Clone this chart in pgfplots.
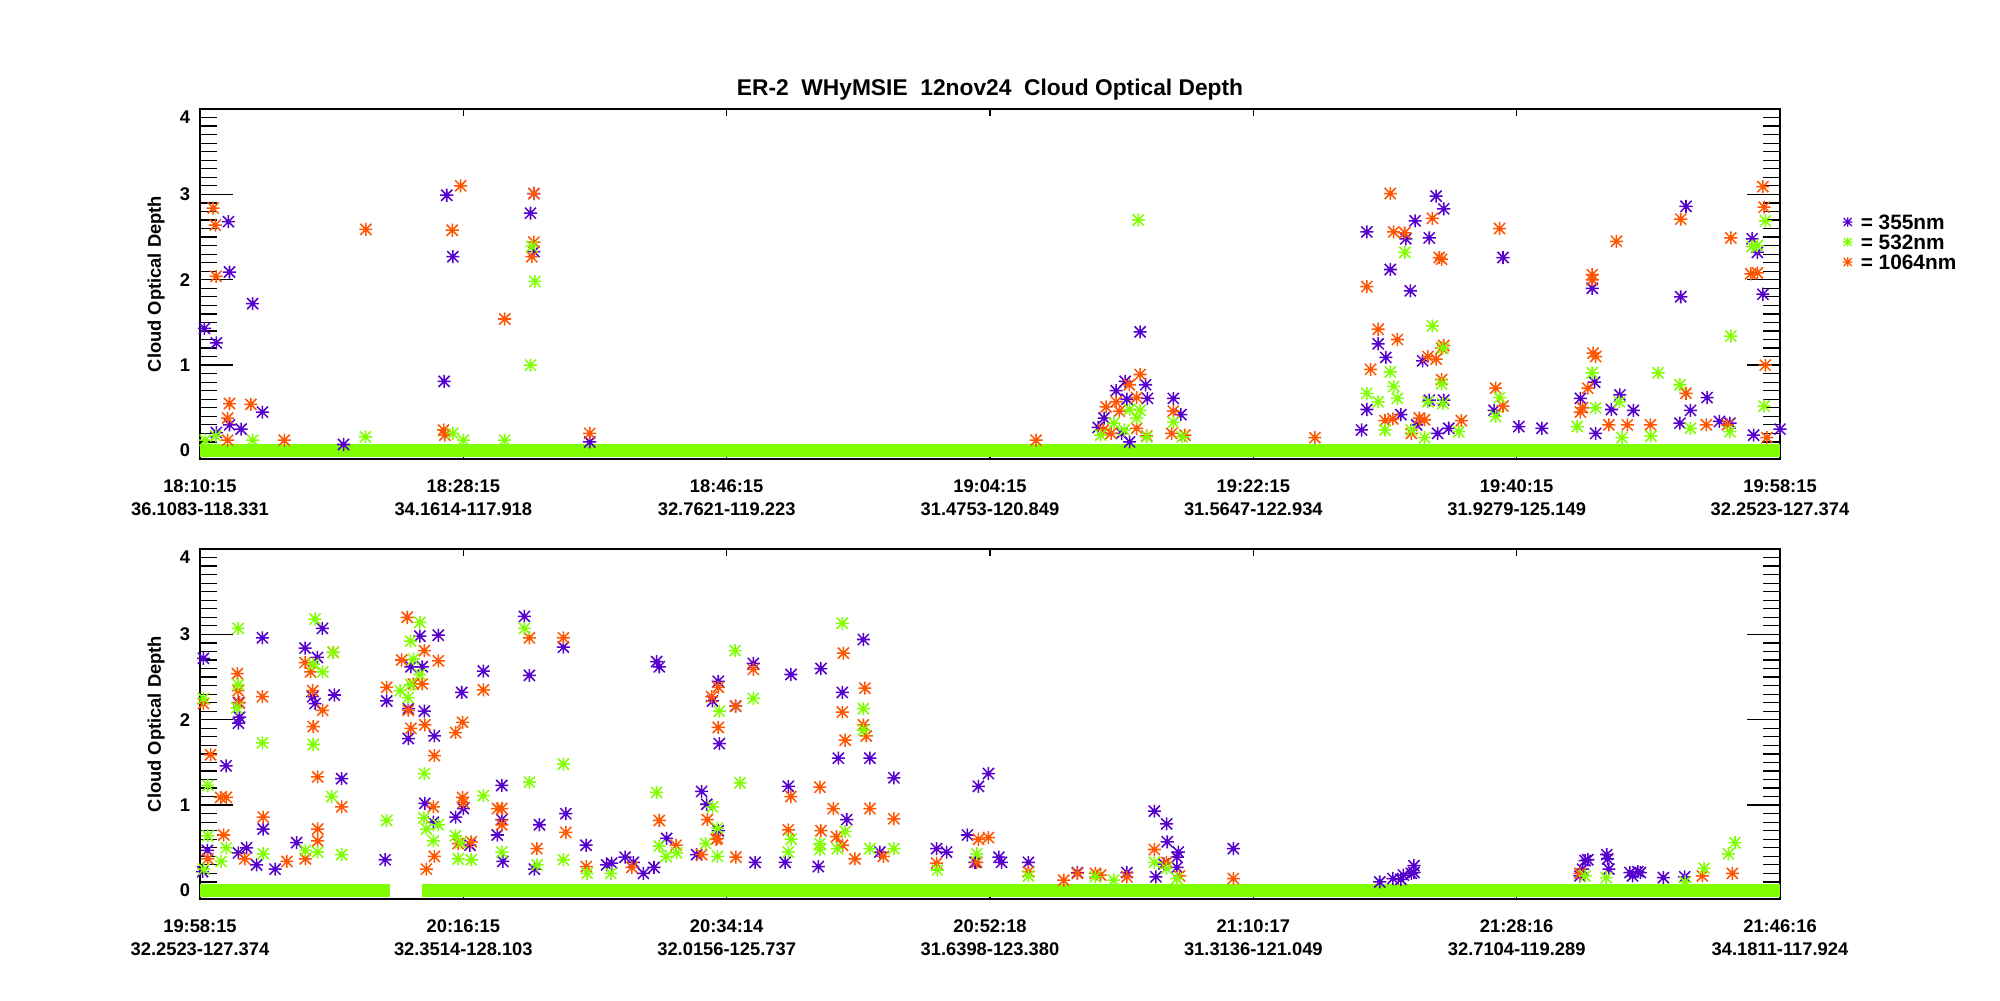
\documentclass[border=0pt]{standalone}
\usepackage{fontspec}
\setmainfont{Liberation Sans}
\usepackage{pgfplots}
\usepackage{pgfplotstable}
\pgfplotsset{compat=1.18}
\definecolor{cpurple}{RGB}{85,0,205}
\definecolor{cgreen}{RGB}{128,255,0}
\definecolor{corange}{RGB}{255,85,0}
\pgfdeclareplotmark{ast8}{%
  \pgfpathmoveto{\pgfqpoint{-\pgfplotmarksize}{0pt}}%
  \pgfpathlineto{\pgfqpoint{\pgfplotmarksize}{0pt}}%
  \pgfpathmoveto{\pgfqpoint{0pt}{-\pgfplotmarksize}}%
  \pgfpathlineto{\pgfqpoint{0pt}{\pgfplotmarksize}}%
  \pgfpathmoveto{\pgfqpoint{-0.85\pgfplotmarksize}{-0.85\pgfplotmarksize}}%
  \pgfpathlineto{\pgfqpoint{0.85\pgfplotmarksize}{0.85\pgfplotmarksize}}%
  \pgfpathmoveto{\pgfqpoint{-0.85\pgfplotmarksize}{0.85\pgfplotmarksize}}%
  \pgfpathlineto{\pgfqpoint{0.85\pgfplotmarksize}{-0.85\pgfplotmarksize}}%
  \pgfusepathqstroke}
\newcommand\tfont{\bfseries\fontsize{6.6}{8.3}\selectfont}
\newcommand\lfont{\bfseries\fontsize{7.5}{8}\selectfont}

% ---------- top panel ----------
\pgfplotstableread{
x y
0.017 1.43
0.062 1.26
0.108 2.68
0.112 2.09
0.200 1.72
0.237 0.45
0.156 0.25
0.062 0.21
0.112 0.30
0.937 2.99
0.960 2.27
0.927 0.81
1.255 2.78
1.268 3.01
1.268 2.33
0.545 0.07
1.480 0.10
3.570 1.39
3.513 0.81
3.591 0.77
3.479 0.70
3.598 0.61
3.520 0.60
3.696 0.61
3.725 0.42
3.433 0.38
3.411 0.27
3.500 0.20
3.530 0.10
4.431 2.56
4.520 2.12
4.596 1.87
4.579 2.48
4.614 2.69
4.668 2.49
4.694 2.98
4.723 2.83
4.948 2.26
4.474 1.25
4.503 1.09
4.643 1.05
5.287 1.90
5.643 2.86
5.623 1.80
5.894 2.48
5.914 2.32
5.935 1.83
5.723 0.62
5.392 0.65
5.443 0.47
5.296 0.80
5.242 0.61
4.914 0.47
5.008 0.28
5.096 0.26
4.668 0.59
4.723 0.59
4.742 0.26
4.431 0.48
4.411 0.24
5.660 0.47
5.620 0.32
5.770 0.34
5.810 0.32
5.360 0.48
5.900 0.18
6.000 0.25
4.560 0.42
4.620 0.30
4.700 0.20
5.300 0.20
}\purpleA
\pgfplotstableread{
x y
0.050 2.84
0.058 2.64
0.061 2.04
0.112 0.55
0.105 0.38
0.193 0.54
0.320 0.12
0.630 2.59
0.990 3.10
0.958 2.58
0.925 0.24
0.930 0.18
1.157 1.54
1.268 3.01
1.268 2.44
1.260 2.27
1.480 0.20
0.105 0.12
3.570 0.89
3.529 0.77
3.479 0.57
3.557 0.62
3.441 0.51
3.491 0.46
3.696 0.46
3.557 0.26
3.430 0.24
3.595 0.17
3.740 0.18
3.690 0.20
3.175 0.12
4.234 0.15
3.460 0.20
4.520 3.01
4.431 1.92
4.533 2.56
4.575 2.55
4.680 2.72
4.706 2.26
4.715 2.24
4.935 2.60
4.474 1.42
4.547 1.30
4.445 0.95
4.663 1.10
4.723 1.23
4.715 1.20
4.694 1.07
5.287 2.06
5.287 2.00
5.379 2.45
5.623 2.71
5.813 2.49
5.889 2.07
5.914 2.08
5.935 3.09
5.940 2.85
5.944 1.00
5.290 1.14
5.300 1.10
4.920 0.73
4.948 0.52
4.715 0.83
5.270 0.73
5.242 0.45
5.643 0.67
5.508 0.30
5.420 0.30
5.350 0.30
4.790 0.35
4.500 0.35
4.530 0.37
4.630 0.38
4.650 0.36
5.720 0.30
5.800 0.30
5.250 0.50
4.600 0.20
5.950 0.15
}\orangeA
\pgfplotstableread{
x y
1.255 1.00
1.272 1.98
1.260 2.39
0.628 0.16
0.960 0.20
1.000 0.12
1.157 0.12
0.020 0.12
0.200 0.12
0.060 0.17
3.563 2.70
3.570 0.47
3.530 0.48
3.696 0.33
3.557 0.38
3.420 0.18
3.595 0.16
3.730 0.16
3.510 0.24
3.470 0.32
4.680 1.46
4.575 2.32
5.813 1.34
5.914 2.40
5.894 2.39
5.944 2.69
5.940 0.52
5.537 0.91
5.620 0.77
5.287 0.91
4.520 0.92
4.533 0.75
4.431 0.67
4.474 0.57
4.547 0.61
4.715 0.78
4.720 1.20
4.663 0.57
4.720 0.55
4.935 0.62
5.390 0.57
5.300 0.50
5.230 0.28
4.780 0.22
5.510 0.17
5.660 0.26
5.810 0.22
4.920 0.40
4.600 0.24
4.500 0.24
4.650 0.15
5.400 0.15
}\greenA

% ---------- bottom panel ----------
\pgfplotstableread{
x y
0.013 2.72
0.237 2.96
0.465 3.07
0.399 2.84
0.446 2.73
0.428 2.27
0.437 2.19
0.510 2.29
0.146 2.20
0.146 1.96
0.150 2.03
0.099 1.46
0.538 1.31
0.709 2.22
0.835 2.98
0.905 2.99
0.801 2.62
0.844 2.62
0.791 2.13
0.852 2.10
0.791 1.78
0.890 1.81
0.994 2.32
1.076 2.57
1.232 3.21
1.251 2.52
1.380 2.85
0.854 1.02
0.886 0.80
0.971 0.86
1.000 0.96
1.146 1.23
1.146 0.83
1.129 0.65
1.289 0.77
1.389 0.90
1.466 0.53
0.240 0.72
0.367 0.56
0.177 0.50
0.146 0.44
0.028 0.47
0.285 0.25
0.215 0.30
0.703 0.36
1.025 0.53
1.150 0.34
1.544 0.30
1.270 0.25
0.010 0.22
1.734 2.68
1.744 2.62
2.101 2.66
1.968 2.45
1.946 2.22
2.034 2.16
1.972 1.72
2.244 2.53
2.358 2.60
2.519 2.94
2.439 2.32
2.424 1.55
2.544 1.55
2.635 1.32
2.234 1.22
1.905 1.16
1.924 1.01
2.956 1.22
2.994 1.37
2.914 0.65
2.456 0.83
1.968 0.70
1.772 0.61
2.797 0.49
2.835 0.45
3.034 0.39
1.614 0.39
1.563 0.32
1.646 0.33
1.724 0.27
2.108 0.33
2.222 0.33
2.348 0.28
2.582 0.45
2.943 0.33
1.886 0.42
1.684 0.20
3.624 0.93
3.671 0.78
3.673 0.57
3.715 0.45
3.710 0.39
3.710 0.27
3.660 0.31
3.924 0.49
3.146 0.33
3.044 0.33
3.332 0.21
3.520 0.21
3.630 0.16
4.610 0.29
4.610 0.21
4.570 0.18
4.530 0.14
4.480 0.10
4.600 0.20
4.560 0.13
5.260 0.35
5.270 0.36
5.342 0.42
5.345 0.37
5.350 0.25
5.250 0.25
5.240 0.17
5.430 0.21
5.460 0.22
5.470 0.21
5.440 0.17
5.557 0.15
5.638 0.16
}\purpleB
\pgfplotstableread{
x y
0.040 1.59
0.078 1.09
0.100 1.09
0.142 2.54
0.145 2.34
0.150 2.20
0.013 2.19
0.237 2.27
0.399 2.67
0.420 2.56
0.506 2.79
0.428 2.34
0.466 2.11
0.430 1.92
0.447 1.33
0.538 0.98
0.240 0.86
0.787 3.20
0.766 2.70
0.852 2.81
0.905 2.69
0.709 2.38
0.810 2.42
0.844 2.42
0.791 2.11
0.801 1.90
0.854 1.94
0.890 1.58
0.971 1.85
0.997 1.97
1.076 2.35
1.251 2.96
1.380 2.96
0.886 0.98
0.997 1.09
1.000 1.03
1.146 0.96
1.130 0.96
1.146 0.77
1.389 0.68
1.279 0.49
1.467 0.28
0.447 0.72
0.447 0.58
0.090 0.65
0.030 0.37
0.170 0.37
0.330 0.34
0.400 0.37
0.890 0.40
0.980 0.55
1.030 0.57
0.860 0.25
1.744 0.82
1.927 0.83
1.965 0.61
1.968 2.38
1.943 2.27
1.968 1.91
2.034 2.16
2.101 2.59
2.443 2.78
2.525 2.37
2.439 2.09
2.519 1.94
2.530 1.81
2.450 1.76
2.244 1.10
2.354 1.21
2.405 0.96
2.544 0.96
2.635 0.84
2.234 0.71
2.358 0.70
2.417 0.63
2.440 0.53
2.956 0.60
2.994 0.62
1.808 0.53
1.905 0.42
1.960 0.60
2.035 0.39
2.487 0.37
2.595 0.40
2.797 0.32
2.950 0.33
1.640 0.27
3.624 0.48
3.670 0.33
3.146 0.22
3.332 0.20
3.400 0.20
3.420 0.18
3.520 0.16
3.924 0.14
3.280 0.12
3.720 0.17
5.705 0.17
5.819 0.20
5.240 0.20
}\orangeB
\pgfplotstableread{
x y
0.145 3.07
0.437 3.18
0.506 2.79
0.466 2.56
0.430 2.65
0.145 2.41
0.140 2.14
0.013 2.25
0.237 1.73
0.430 1.71
0.030 1.23
0.500 1.10
0.709 0.82
0.835 3.14
0.800 2.92
0.810 2.71
0.835 2.53
0.790 2.26
0.760 2.34
0.800 2.41
1.232 3.07
0.852 1.37
1.076 1.11
1.251 1.27
1.380 1.48
0.850 0.85
0.905 0.77
0.860 0.72
0.970 0.64
0.990 0.56
1.146 0.45
0.886 0.58
0.240 0.43
0.538 0.42
0.030 0.64
0.080 0.34
0.100 0.50
0.400 0.47
0.447 0.45
1.030 0.36
1.380 0.36
1.280 0.30
1.470 0.20
0.980 0.37
0.015 0.25
2.439 3.13
2.032 2.81
2.101 2.25
1.972 2.10
2.519 2.13
2.519 1.88
1.734 1.15
2.051 1.26
1.947 0.98
1.965 0.73
1.965 0.40
1.744 0.52
2.245 0.60
2.234 0.45
2.354 0.55
2.354 0.48
2.450 0.69
2.544 0.49
2.635 0.49
2.950 0.43
1.770 0.40
1.810 0.44
1.920 0.55
1.560 0.20
2.800 0.24
2.420 0.49
3.624 0.33
3.146 0.17
3.670 0.26
3.400 0.16
3.470 0.12
3.710 0.14
5.829 0.56
5.804 0.43
5.712 0.26
5.260 0.17
5.340 0.15
5.640 0.10
}\greenB

\pgfplotsset{
  panel/.style={
    scale only axis, width=568.8pt, height=126pt,
    xmin=0, xmax=6, ymin=-0.1, ymax=4,
    axis line style={line width=0.45pt},
    every tick/.style={black, line width=0.45pt},
    xtick={0,1,2,3,4,5,6},
    ytick={0,1,2,3,4}, yticklabels={0,1,2,3,{}},
    extra y ticks={3.9}, extra y tick labels={4},
    extra y tick style={tick style={draw=none}},
    minor y tick num=9,
    xtick style={/pgfplots/major tick length=2.5pt},
    ytick style={/pgfplots/major tick length=11.8pt},
    minor tick length=6pt,
    tick align=inside,
    xticklabel style={align=center, font=\tfont, yshift=-4pt},
    yticklabel style={font=\tfont, xshift=0pt},
    ylabel={Cloud Optical Depth},
    ylabel style={at={(axis description cs:-0.0278,0.5)}, anchor=center, font=\tfont},
    mk/.style={only marks, mark=ast8, mark size=2.35pt, line width=0.55pt},
  }
}

\begin{document}
\begin{tikzpicture}
\useasboundingbox (0pt,0pt) rectangle (720pt,360pt);
\begin{axis}[panel, at={(72pt,194.76pt)}, anchor=south west,
  xticklabels={{18:10:15\\36.1083-118.331},{18:28:15\\34.1614-117.918},{18:46:15\\32.7621-119.223},{19:04:15\\31.4753-120.849},{19:22:15\\31.5647-122.934},{19:40:15\\31.9279-125.149},{19:58:15\\32.2523-127.374}},
  title={ER-2\ \ WHyMSIE\ \ 12nov24\ \ Cloud Optical Depth},
  title style={at={(axis description cs:0.5,1)}, anchor=base, yshift=-1pt, font=\bfseries\fontsize{8.2}{9}\selectfont},
  legend style={at={(axis description cs:1.0395,0.62)}, anchor=west, draw=none, fill=none, inner sep=0pt, font=\lfont, row sep=0.8pt, column sep=2.5pt, nodes={inner sep=0.5pt, text height=5.4pt, text depth=0pt}},
  legend cell align=left,
  legend image code/.code={\draw[#1] plot coordinates {(0pt,0pt)};},
]
\addplot[mk, cpurple, forget plot] table {\purpleA};
\addplot[mk, corange, forget plot] table {\orangeA};
\addplot[mk, cgreen, forget plot] table {\greenA};
\addplot[cgreen, line width=4.7pt, forget plot] coordinates {(0,0) (6,0)};
\addlegendimage{only marks, mark=ast8, mark size=1.7pt, line width=0.45pt, cpurple}
\addlegendentry{= 355nm}
\addlegendimage{only marks, mark=ast8, mark size=1.7pt, line width=0.45pt, cgreen}
\addlegendentry{= 532nm}
\addlegendimage{only marks, mark=ast8, mark size=1.7pt, line width=0.45pt, corange}
\addlegendentry{= 1064nm}
\end{axis}
\begin{axis}[panel, at={(72pt,36.36pt)}, anchor=south west,
  xticklabels={{19:58:15\\32.2523-127.374},{20:16:15\\32.3514-128.103},{20:34:14\\32.0156-125.737},{20:52:18\\31.6398-123.380},{21:10:17\\31.3136-121.049},{21:28:16\\32.7104-119.289},{21:46:16\\34.1811-117.924}},
]
\addplot[mk, cpurple] table {\purpleB};
\addplot[mk, corange] table {\orangeB};
\addplot[mk, cgreen] table {\greenB};
\addplot[cgreen, line width=4.7pt] coordinates {(0,0) (0.722,0)};
\addplot[cgreen, line width=4.7pt] coordinates {(0.843,0) (6,0)};
\end{axis}
\end{tikzpicture}
\end{document}
